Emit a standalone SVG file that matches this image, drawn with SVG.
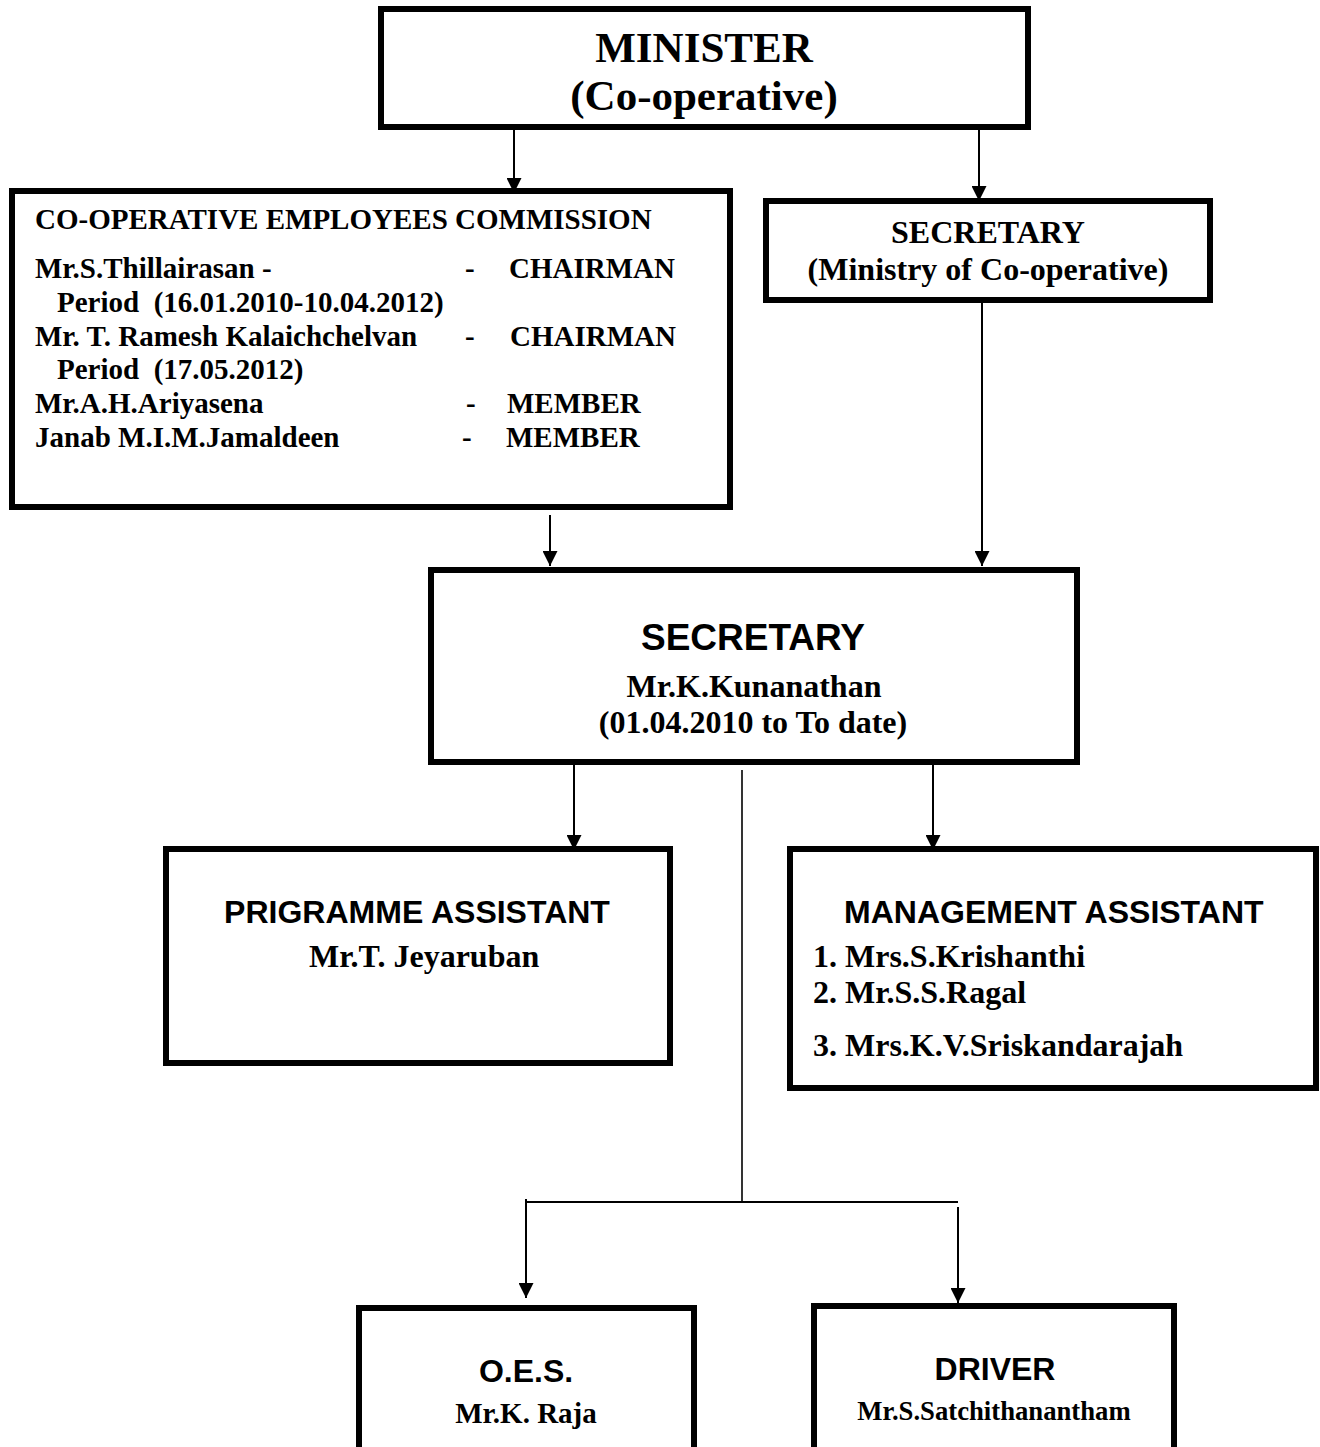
<svg xmlns="http://www.w3.org/2000/svg" width="1320" height="1447" viewBox="0 0 1320 1447">
<style>
.box{fill:#fff;stroke:#000;stroke-width:6}
.sf{font-family:"Liberation Serif","Times New Roman",serif;font-weight:bold;fill:#000;white-space:pre}
.ss{font-family:"Liberation Sans",Arial,sans-serif;font-weight:bold;fill:#000}
.c{stroke:#000;stroke-width:2;fill:none}
.thin{stroke:#000;stroke-width:1.6;fill:none}
.mid{text-anchor:middle}
</style>
<defs>
<marker id="ah" markerUnits="userSpaceOnUse" markerWidth="15" markerHeight="15" refX="15" refY="7.5" orient="auto">
<path d="M0,0 L15,7.5 L0,15 z" fill="#000"/>
</marker>
</defs>
<rect x="0" y="0" width="1320" height="1447" fill="#fff"/>

<g id="minister">
<rect class="box" x="381" y="9" width="647" height="118"/>
<text class="sf mid" x="704" y="62" font-size="43">MINISTER</text>
<text class="sf mid" x="704" y="110" font-size="43">(Co-operative)</text>
</g>

<g id="commission">
<rect class="box" x="12" y="191" width="718" height="316"/>
<text class="sf" x="35" y="229" font-size="29">CO-OPERATIVE EMPLOYEES COMMISSION</text>
<text class="sf" x="35" y="278" font-size="29">Mr.S.Thillairasan -</text>
<text class="sf" x="465" y="278" font-size="29">-</text>
<text class="sf" x="509" y="278" font-size="29">CHAIRMAN</text>
<text class="sf" x="57" y="312" font-size="29">Period  (16.01.2010-10.04.2012)</text>
<text class="sf" x="35" y="346" font-size="29">Mr. T. Ramesh Kalaichchelvan</text>
<text class="sf" x="465" y="346" font-size="29">-</text>
<text class="sf" x="510" y="346" font-size="29">CHAIRMAN</text>
<text class="sf" x="57" y="379" font-size="29">Period  (17.05.2012)</text>
<text class="sf" x="35" y="413" font-size="29">Mr.A.H.Ariyasena</text>
<text class="sf" x="466" y="413" font-size="29">-</text>
<text class="sf" x="507" y="413" font-size="29">MEMBER</text>
<text class="sf" x="35" y="447" font-size="29">Janab M.I.M.Jamaldeen</text>
<text class="sf" x="462" y="447" font-size="29">-</text>
<text class="sf" x="506" y="447" font-size="29">MEMBER</text>
</g>

<g id="ministry-secretary">
<rect class="box" x="766" y="201" width="444" height="99"/>
<text class="sf mid" x="988" y="243" font-size="32">SECRETARY</text>
<text class="sf mid" x="988" y="280" font-size="32">(Ministry of Co-operative)</text>
</g>

<g id="secretary">
<rect class="box" x="431" y="570" width="646" height="192"/>
<text class="ss mid" x="753" y="650" font-size="37">SECRETARY</text>
<text class="sf mid" x="754" y="697" font-size="32">Mr.K.Kunanathan</text>
<text class="sf mid" x="753" y="733" font-size="32">(01.04.2010 to To date)</text>
</g>

<g id="programme-assistant">
<rect class="box" x="166" y="849" width="504" height="214"/>
<text class="ss mid" x="417" y="923" font-size="32">PRIGRAMME ASSISTANT</text>
<text class="sf" x="309" y="967" font-size="32">Mr.T. Jeyaruban</text>
</g>

<g id="management-assistant">
<rect class="box" x="790" y="849" width="526" height="239"/>
<text class="ss" x="844" y="923" font-size="32">MANAGEMENT ASSISTANT</text>
<text class="sf" x="813" y="967" font-size="32">1. Mrs.S.Krishanthi</text>
<text class="sf" x="813" y="1003" font-size="32">2. Mr.S.S.Ragal</text>
<text class="sf" x="813" y="1056" font-size="32">3. Mrs.K.V.Sriskandarajah</text>
</g>

<g id="oes">
<rect class="box" x="359" y="1308" width="335" height="200"/>
<text class="ss mid" x="526" y="1382" font-size="32">O.E.S.</text>
<text class="sf mid" x="526" y="1423" font-size="29">Mr.K. Raja</text>
</g>

<g id="driver">
<rect class="box" x="814" y="1306" width="360" height="200"/>
<text class="ss mid" x="995" y="1380" font-size="32">DRIVER</text>
<text class="sf mid" x="994" y="1420" font-size="26.7">Mr.S.Satchithanantham</text>
</g>

<g id="connectors">
<line class="c" x1="514" y1="127" x2="514" y2="193" marker-end="url(#ah)"/>
<line class="c" x1="979" y1="130" x2="979" y2="201" marker-end="url(#ah)"/>
<line class="c" x1="550" y1="515" x2="550" y2="566" marker-end="url(#ah)"/>
<line class="c" x1="982" y1="303" x2="982" y2="566" marker-end="url(#ah)"/>
<line class="c" x1="574" y1="765" x2="574" y2="850" marker-end="url(#ah)"/>
<line class="c" x1="933" y1="765" x2="933" y2="850" marker-end="url(#ah)"/>
<line class="thin" x1="742" y1="770" x2="742" y2="1202"/>
<line class="c" x1="526" y1="1202" x2="958" y2="1202"/>
<line class="c" x1="526" y1="1199" x2="526" y2="1298" marker-end="url(#ah)"/>
<line class="c" x1="958" y1="1207" x2="958" y2="1303" marker-end="url(#ah)"/>
</g>
</svg>
